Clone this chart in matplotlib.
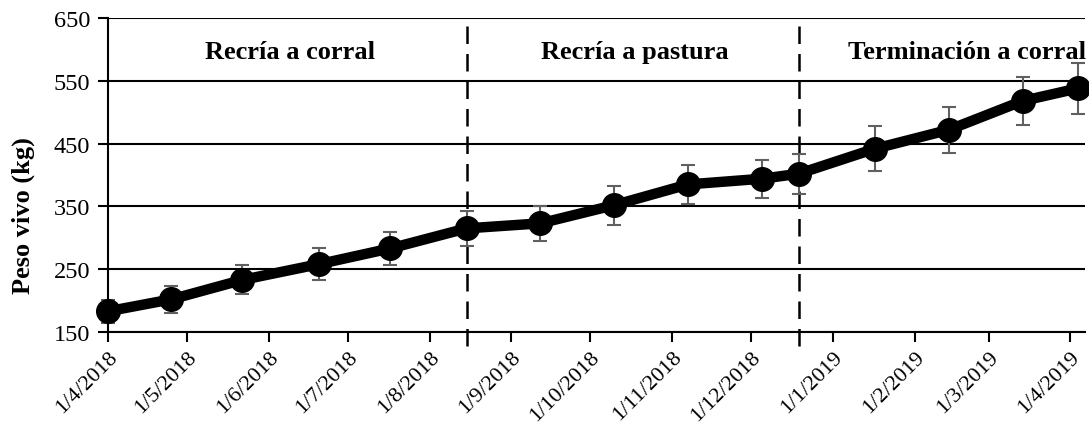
import matplotlib
matplotlib.use('Agg')
import matplotlib.pyplot as plt
from datetime import datetime, timedelta

# Live weight per weighing (kg) with standard deviation
fechas = ['2018-04-01', '2018-04-25', '2018-05-22', '2018-06-20', '2018-07-17',
          '2018-08-15', '2018-09-12', '2018-10-10', '2018-11-07', '2018-12-05',
          '2018-12-19', '2019-01-17', '2019-02-14', '2019-03-14', '2019-04-04']
peso = [183, 202, 233, 258, 283, 315, 323, 352, 385, 394, 402, 442, 472, 518, 538]
desvio = [18, 21, 23, 25, 27, 28, 28, 31, 31, 30, 32, 36, 37, 38, 41]

# Phase limits and labels
cambios = ['2018-08-15', '2018-12-19']
etapas = ['Recría a corral', 'Recría a pastura', 'Terminación a corral']
etapa_x = ['2018-06-09', '2018-10-18', '2019-02-21']

ticks_x = ['2018-04-01', '2018-05-01', '2018-06-01', '2018-07-01', '2018-08-01',
           '2018-09-01', '2018-10-01', '2018-11-01', '2018-12-01', '2019-01-01',
           '2019-02-01', '2019-03-01', '2019-04-01']
ticks_y = [150, 250, 350, 450, 550, 650]

to_dt = lambda s: datetime.strptime(s, '%Y-%m-%d')
x = [to_dt(d) for d in fechas]

plt.rcParams['font.family'] = ['Liberation Serif', 'DejaVu Serif']

fig = plt.figure(figsize=(10.89, 4.27), dpi=100)
ax = fig.add_axes([108 / 1089, 1 - 333 / 427, 977 / 1089, 314 / 427])

for yv in ticks_y:
    ax.axhline(yv, color='black', lw=1.5, zorder=1)

for c in cambios:
    ax.axvline(to_dt(c), ymin=-0.045, ymax=1, color='black', lw=1.8,
               dashes=(7, 4), clip_on=False, zorder=2)

ax.errorbar(x, peso, yerr=desvio, fmt='none', ecolor='#606060', elinewidth=1.5,
            capsize=5, capthick=1.5, zorder=3, clip_on=False)
ax.plot(x, peso, '-o', color='black', lw=7.5, markersize=17, zorder=4, clip_on=False)

for lab, xs in zip(etapas, etapa_x):
    ax.text(to_dt(xs), 597, lab, ha='center', va='center', fontsize=19,
            fontweight='bold')

ax.set_xlim(to_dt('2018-04-01'), to_dt('2018-04-01') + timedelta(days=370.6))
ax.set_ylim(150, 650)
ax.set_yticks(ticks_y)
ax.set_yticklabels([str(v) for v in ticks_y], fontsize=17.5)
ax.set_xticks([to_dt(t) for t in ticks_x])
ax.set_xticklabels([f'1/{to_dt(t).month}/{to_dt(t).year}' for t in ticks_x],
                   rotation=45, ha='right', rotation_mode='anchor', fontsize=16)
ax.tick_params(axis='both', direction='out', length=7, width=1.5, color='black')
ax.tick_params(axis='y', pad=6)
ax.tick_params(axis='x', pad=4)

for s in ['top', 'right']:
    ax.spines[s].set_visible(False)
for s in ['left', 'bottom']:
    ax.spines[s].set_linewidth(1.5)

ax.set_ylabel('Peso vivo (kg)', fontsize=19, fontweight='bold')
ax.yaxis.set_label_coords(-0.087, 0.373)
ax.yaxis.label.set_va('center')

fig.savefig('out.png', dpi=100)
